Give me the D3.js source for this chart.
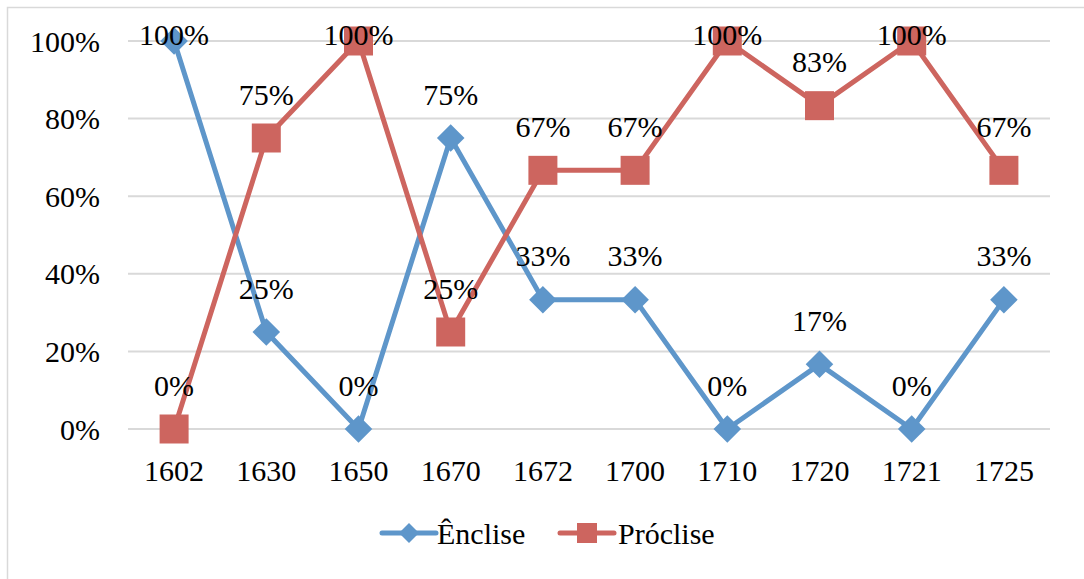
<!DOCTYPE html>
<html><head><meta charset="utf-8"><script src="https://cdn.jsdelivr.net/npm/d3@7"></script></head>
<body style="margin:0">
<svg id="s" width="1084" height="579"></svg>
<script>
// Categories (years) and the share of each clitic placement
const years = ["1602", "1630", "1650", "1670", "1672", "1700", "1710", "1720", "1721", "1725"];
const enclise = [1, 0.25, 0, 0.75, 1/3, 1/3, 0, 1/6, 0, 1/3];
const proclise = [0, 0.75, 1, 0.25, 2/3, 2/3, 1, 5/6, 1, 2/3];
const yTicks = [0, 0.2, 0.4, 0.6, 0.8, 1];
const seriesNames = ["Ênclise", "Próclise"];
const seriesColors = ["#5E96CA", "#CD655F"];

const svg = d3.select("#s");
const W = 1084, H = 579;
const plot = { left: 128, right: 1050, top: 41, bottom: 429 };
const pct = d3.format(".0%");

const x = d3.scaleBand().domain(years).range([plot.left, plot.right]);
const y = d3.scaleLinear().domain([0, 1]).range([plot.bottom, plot.top]);
const cx = d => x(d) + x.bandwidth() / 2;

// Outer chart frame
svg.append("rect")
  .attr("x", 7.5).attr("y", 7.5)
  .attr("width", W + 20).attr("height", H + 20)
  .attr("fill", "none").attr("stroke", "#D9D9D9").attr("stroke-width", 1.5);

// Horizontal gridlines
svg.selectAll("line.grid").data(yTicks).join("line")
  .attr("class", "grid")
  .attr("x1", plot.left).attr("x2", plot.right)
  .attr("y1", d => y(d)).attr("y2", d => y(d))
  .attr("stroke", "#D9D9D9").attr("stroke-width", 2);

// Every text item: content, position, anchor
const labels = [];
y.ticks(5).forEach(t => labels.push({ t: pct(t), x: 100, y: y(t), a: "end" }));
x.domain().forEach(c => labels.push({ t: c, x: cx(c), y: 470, a: "middle" }));

const line = d3.line().x((d, i) => cx(years[i])).y(d => y(d));
[enclise, proclise].forEach((vals, k) => {
  svg.append("path").datum(vals)
    .attr("d", line).attr("fill", "none")
    .attr("stroke", seriesColors[k]).attr("stroke-width", 5).attr("stroke-linejoin", "round");
  svg.selectAll(`path.m${k}`).data(vals).join("path")
    .attr("class", `m${k}`)
    .attr("d", d3.symbol().type(d3.symbolSquare).size(k === 0 ? 380 : 841)())
    .attr("fill", seriesColors[k])
    .attr("transform", (d, i) => `translate(${cx(years[i])},${y(d)})` + (k === 0 ? " rotate(45)" : ""));
  vals.forEach((v, i) => labels.push({ t: pct(v), x: cx(years[i]), y: Math.max(y(v) - 44, 34), a: "middle" }));
});

// Legend keys
const legendX = [382, 560], legendTX = [437, 618], legendY = 533;
seriesNames.forEach((n, k) => {
  svg.append("line")
    .attr("x1", legendX[k]).attr("x2", legendX[k] + 54).attr("y1", legendY).attr("y2", legendY)
    .attr("stroke", seriesColors[k]).attr("stroke-width", 5).attr("stroke-linecap", "round");
  svg.append("path")
    .attr("d", d3.symbol().type(d3.symbolSquare).size(k === 0 ? 200 : 400)())
    .attr("fill", seriesColors[k])
    .attr("transform", `translate(${legendX[k] + 27},${legendY})` + (k === 0 ? " rotate(45)" : ""));
  labels.push({ t: n, x: legendTX[k], y: legendY, a: "start" });
});

svg.selectAll("text").data(labels).join("text")
  .attr("x", d => d.x).attr("y", d => d.y + 10.5)
  .attr("text-anchor", d => d.a)
  .attr("font-size", 30)
  .style("font-family", d => `"Liberation Serif"`)
  .text(d => d.t);
</script></body></html>
